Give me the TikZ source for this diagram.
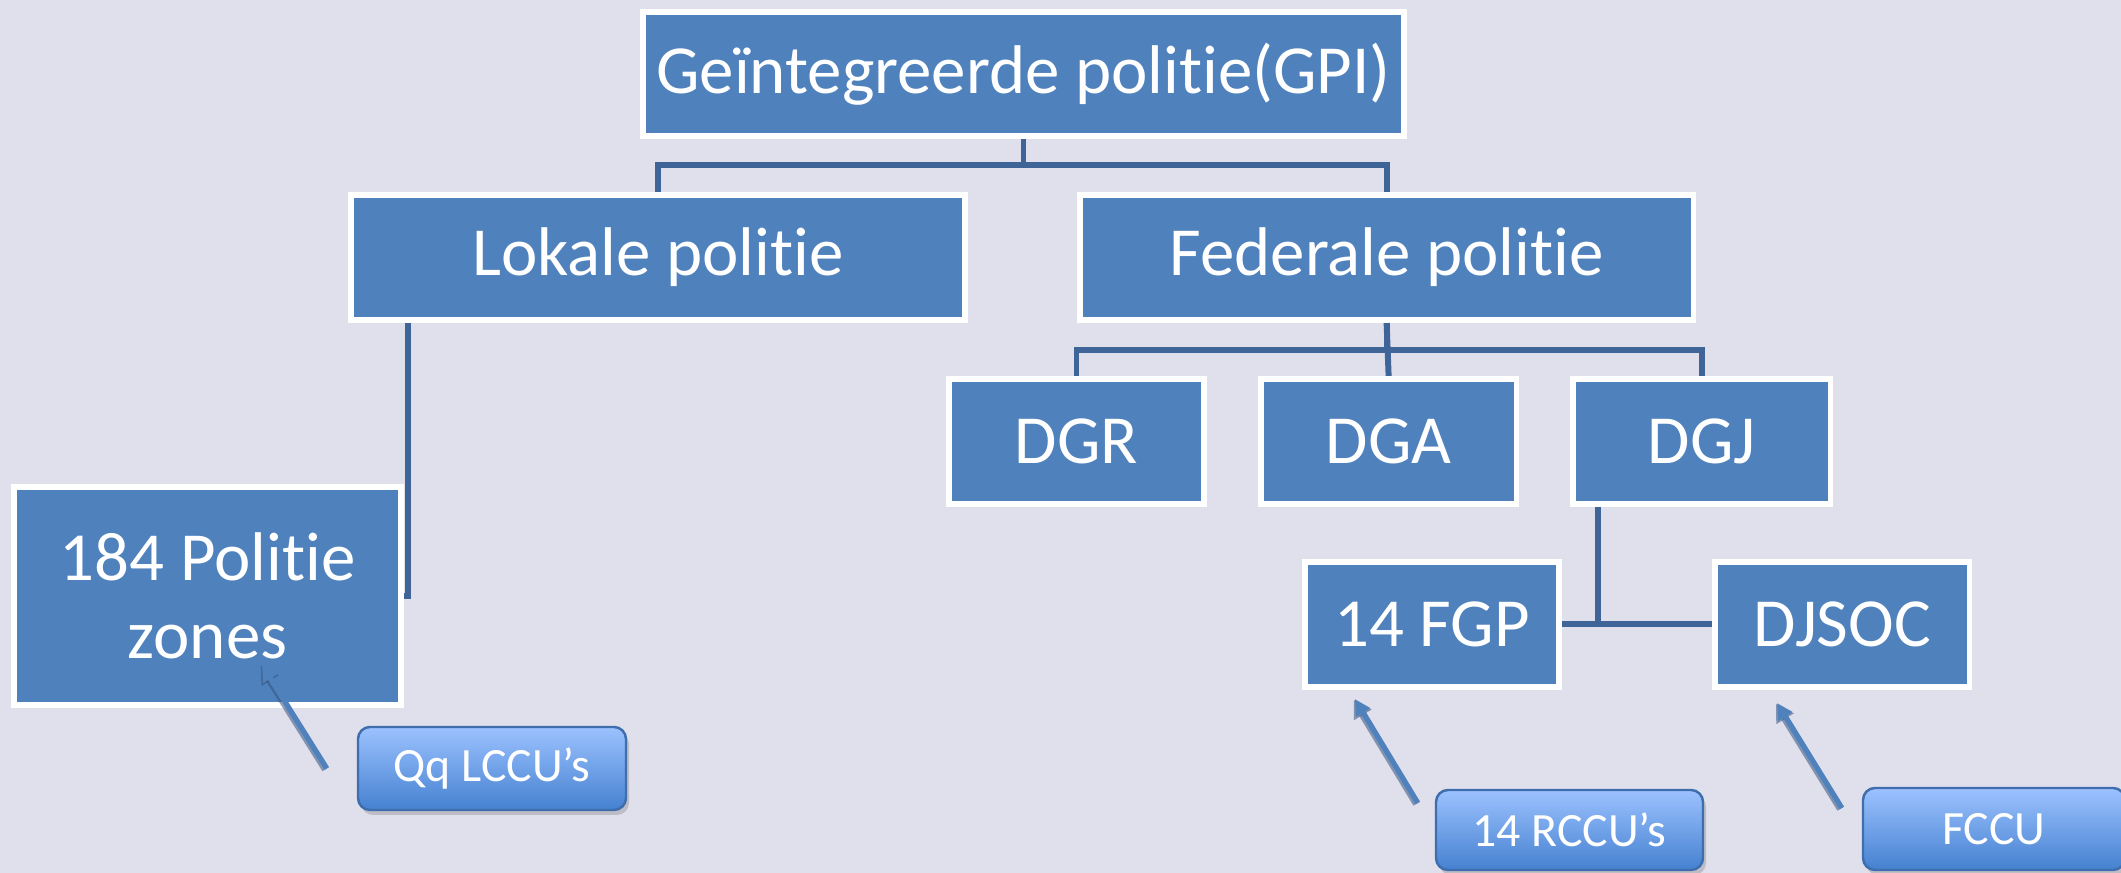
\documentclass[tikz,border=0pt]{standalone}
\usepackage{fontspec}
\setmainfont{Carlito}[Ligatures={NoCommon,NoRare}]
\usepackage{xcolor}
\usetikzlibrary{arrows.meta,calc,positioning,shadows}
\definecolor{bgcol}{HTML}{E0DFEC}
\definecolor{boxcol}{HTML}{4F81BD}
\definecolor{linecol}{HTML}{3F6598}
\definecolor{calltop}{HTML}{9CC2FF}
\definecolor{callbot}{HTML}{4581D0}
\definecolor{callrim}{HTML}{3F6EAE}
\definecolor{arrowsh}{HTML}{35557F}

\begin{document}
\begin{tikzpicture}[-,auto,semithick]
	\tikzstyle{org}=[draw=white, line width=1.6pt, fill=boxcol, text=white, inner sep=0pt, minimum height=1.255cm, font=\fontsize{19.6}{22}\selectfont]
	\tikzstyle{callout}=[draw=callrim, line width=0.7pt, top color=calltop, bottom color=callbot, text=white, rounded corners=0.12cm, inner sep=0pt, drop shadow={opacity=0.35, shadow xshift=0.03cm, shadow yshift=-0.05cm}, font=\fontsize{13.6}{16}\selectfont]
	\tikzstyle{tie}=[draw=linecol, line width=1.7pt]
	\tikzstyle{pointer}=[draw=boxcol, line width=1.5pt, -{Triangle[width=4.5pt,length=4.5pt]}]
	\tikzstyle{pointershade}=[draw=arrowsh, opacity=0.55, line width=2.1pt, -{Triangle[width=5.5pt,length=5pt]}]
		\fill[bgcol] (0,0) rectangle (21.21,8.73);
		\useasboundingbox (0,0) rectangle (21.21,8.73);
			\node[org, minimum width=7.615cm, minimum height=1.245cm] (gpi) at (10.235,7.99) {Geïntegreerde politie(GPI)};
			\node[org, minimum width=6.145cm] (lok) at (6.58,6.155) {Lokale politie};
			\node[org, minimum width=6.135cm] (fed) [right=1.09cm of lok] {Federale politie};
			\node[org, minimum width=2.555cm] (dgr) at (10.765,4.315) {DGR};
			\node[org, minimum width=2.555cm] (dga) [right=0.51cm of dgr] {DGA};
			\node[org, minimum width=2.575cm] (dgj) [right=0.51cm of dga] {DGJ};
			\node[org, minimum width=3.875cm, minimum height=2.185cm, align=center] (zones) at (2.075,2.77) {184 Politie\\zones};
			\node[org, minimum width=2.545cm] (fgp) at (14.32,2.485) {14 FGP};
			\node[org, minimum width=2.545cm] (djsoc) [right=1.5cm of fgp] {DJSOC};
			\node[callout, minimum width=2.68cm, minimum height=0.83cm] (qq) at (4.92,1.045) {Qq LCCU’s};
			\node[callout, minimum width=2.67cm, minimum height=0.80cm] (rccu) at (15.695,0.43) {14 RCCU’s};
			\node[callout, minimum width=2.62cm, minimum height=0.82cm] (fccu) at (19.94,0.44) {FCCU};
		% tree lines
		\draw[tie] (gpi.south) -- ++(0,-0.26) -| (lok.north);
		\draw[tie] (gpi.south) -- ++(0,-0.26) -| (fed.north);
		\draw[tie] (fed.south) -- ++(0,-0.27) -| (dgr.north);
		\draw[tie] (fed.south) -- (dga.north);
		\draw[tie] (fed.south) -- ++(0,-0.27) -| (dgj.north);
		\coordinate (lz) at ($(lok.south west)+(0.6,0)$);
		\draw[tie] (lz) |- (zones.east);
		\draw[tie] (fgp.east) -- (djsoc.west);
		\coordinate (jn) at ($(fgp.east)!0.24!(djsoc.west)$);
		\draw[tie] (dgj.south -| jn) -- (jn);
		% pointers
		\coordinate (qqtail) at ($(qq.west)+(-0.30,0)$);
		\coordinate (qqhead) at ($(zones.south)+(0.545,0.43)$);
		\coordinate (rctail) at ($(rccu.west)+(-0.17,0.27)$);
		\coordinate (rchead) at ($(fgp.south west)+(0.53,-0.09)$);
		\coordinate (fctail) at ($(fccu.west)+(-0.20,0.21)$);
		\coordinate (fchead) at ($(djsoc.south west)+(0.65,-0.13)$);
		\foreach \t/\h in {qqtail/qqhead, rctail/rchead, fctail/fchead}{
			\draw[pointershade] ($(\t)+(-0.012,-0.008)$) -- ($(\h)+(-0.012,-0.008)$);
			\draw[pointer] (\t) -- (\h);
		}
\end{tikzpicture}
\end{document}
